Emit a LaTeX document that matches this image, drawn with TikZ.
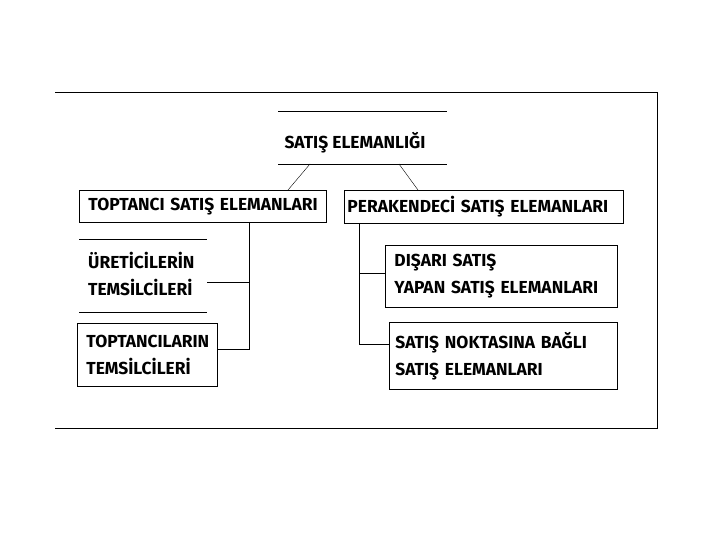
\documentclass[tikz,border=0pt]{standalone}
\usepackage{fontspec}
\setmainfont{Fira Sans}
\begin{document}
\begin{tikzpicture}[x=1pt,y=-1pt,
  lbl/.style={font=\bfseries\fontsize{17.4}{27}\selectfont, align=left, inner sep=0pt},
  boxn/.style={draw, line width=0.9pt, anchor=north west, inner xsep=9pt, inner ysep=0pt, align=left, font=\bfseries\fontsize{17.4}{27}\selectfont},
  link/.style={line width=0.9pt},
  thin/.style={line width=0.4pt}]
\useasboundingbox (0,0) rectangle (720,540);
% frame
\draw[line width=1pt] (55,93) -- (657,93) -- (657,428) -- (55,428);
% top node
\node[anchor=north west, minimum width=169pt, minimum height=53pt, inner sep=0pt] (top) at (278,111) {};
\draw[line width=0.9pt] (top.north west) -- (top.north east);
\draw[line width=0.9pt] (top.south west) -- (top.south east);
\node[lbl] (toplbl) at (355,143) {SATIŞ ELEMANLIĞI};
% level 2
\node[boxn, minimum width=247pt, minimum height=32pt, text width=229pt] (tw) at (79,190) {\mbox{TOPTANCI SATIŞ ELEMANLARI}};
\node[boxn, minimum width=279pt, minimum height=33pt, inner xsep=3pt, text width=273pt] (pr) at (344,190) {\mbox{PERAKENDECİ SATIŞ ELEMANLARI}};
% diagonals
\coordinate (d1a) at (310,164); \coordinate (d1b) at (288,190);
\coordinate (d2a) at (399,164); \coordinate (d2b) at (418,190);
\draw[thin] (d1a) -- (d1b);
\draw[thin] (d2a) -- (d2b);
% left children
\node[anchor=north west, minimum width=128pt, minimum height=73pt, inner sep=0pt] (ur) at (79,239) {};
\draw[line width=0.9pt] (ur.north west) -- (ur.north east);
\draw[line width=0.9pt] (ur.south west) -- (ur.south east);
\node[lbl, anchor=west] (urlbl) at (88,274) {ÜRETİCİLERİN\\TEMSİLCİLERİ};
\node[boxn, minimum width=140pt, minimum height=63pt, text width=122pt] (tt) at (77,323) {\mbox{TOPTANCILARIN}\\TEMSİLCİLERİ};
% right children
\node[boxn, minimum width=232pt, minimum height=62pt, text width=214pt] (ds) at (385,245) {DIŞARI SATIŞ\\\mbox{YAPAN SATIŞ ELEMANLARI}};
\node[boxn, minimum width=228pt, minimum height=67pt, inner xsep=6pt, text width=216pt] (sn) at (389,322) {\mbox{SATIŞ NOKTASINA BAĞLI}\\SATIŞ ELEMANLARI};
% left bus
\coordinate (lb) at (249,222); \coordinate (lb1) at (249,282); \coordinate (lb2) at (249,349);
\draw[link] (lb) -- (lb2) -- (tt.east |- lb2);
\draw[link] (lb1) -- (ur.east |- lb1);
% right bus
\coordinate (rb) at (359,223); \coordinate (rb1) at (359,273); \coordinate (rb2) at (359,344);
\draw[link] (rb) -- (rb2) -- (sn.west |- rb2);
\draw[link] (rb1) -- (ds.west |- rb1);
\end{tikzpicture}
\end{document}
